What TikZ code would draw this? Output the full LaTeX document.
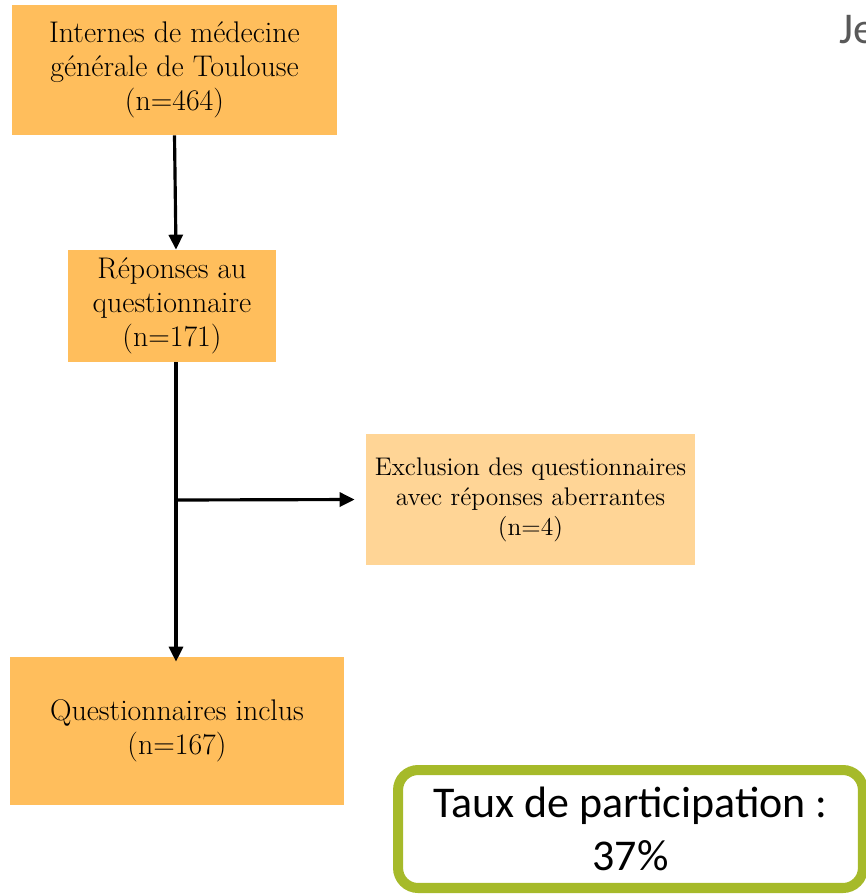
\documentclass[tikz,border=0pt]{standalone}
\usepackage{fontspec}
\newfontfamily\calibri{Carlito}
\usetikzlibrary{arrows.meta}
\definecolor{boxorange}{RGB}{255,190,92}
\definecolor{boxpale}{RGB}{255,213,150}
\definecolor{tauxgreen}{RGB}{166,186,42}
\definecolor{titlegray}{RGB}{89,89,89}

\begin{document}
\begin{tikzpicture}[x=0.02cm, y=-0.02cm,
		box/.style={fill=boxorange, align=center, inner sep=0pt, font=\fontsize{17}{19.5}\selectfont},
		flow/.style={line width=1.8pt, -{Triangle[length=0.3cm, width=0.28cm]}}]
	\useasboundingbox (0,0) rectangle (866,894);

	\node [titlegray, anchor=base west, font=\calibri\fontsize{25}{30}\selectfont] (titre) at (833,43) {Je};

	\node [box, minimum width=6.5cm, minimum height=2.6cm] (internes) at (174.5,70) {Internes de médecine\\générale de Toulouse\\(n=464)};
	\node [box, minimum width=4.16cm, minimum height=2.24cm] (reponses) at (172,306) {Réponses au\\questionnaire\\(n=171)};
	\node [box, fill=boxpale, minimum width=6.58cm, minimum height=2.62cm, font=\fontsize{14.5}{17}\selectfont] (exclusion) at (530.5,499.5) {Exclusion des questionnaires\\avec réponses aberrantes\\(n=4)};
	\node [box, minimum width=6.68cm, minimum height=2.96cm] (inclus) at (177,731) {Questionnaires inclus\\(n=167)};

	\node [draw=tauxgreen, line width=5.7pt, rounded corners=0.4cm, minimum width=9.3cm, minimum height=2.36cm, align=center, font=\calibri\fontsize{25}{30.5}\selectfont] (taux) at (630.5,829) {Taux de participation :\\37\%};

	% fleches
	\coordinate (split) at (176,500);
	\draw [flow] (internes.south) -- (reponses.north -| split);
	\draw [flow] (reponses.south -| split) -- ([yshift=-0.1cm]inclus.north -| split);
	\draw [flow] (split) -- ([xshift=-0.22cm]exclusion.west);
\end{tikzpicture}
\end{document}
